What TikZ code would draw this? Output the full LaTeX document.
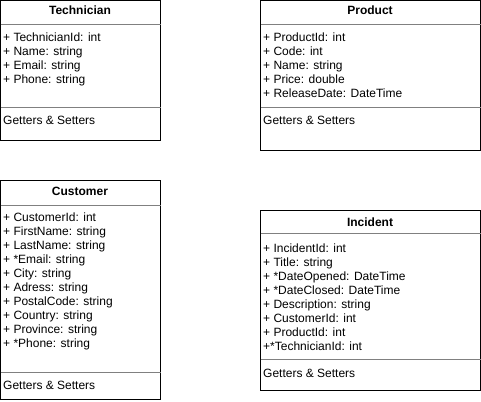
\documentclass[tikz,border=0pt]{standalone}
\usepackage{fontspec}
\setmainfont{Liberation Sans}
\definecolor{divgray}{HTML}{808080}
\begin{document}
\begin{tikzpicture}[x=1pt, y=-1pt,
  box/.style={draw=black, line width=1pt},
  divider/.style={draw=divgray, line width=1pt},
  title/.style={font=\fontsize{12}{14}\selectfont\bfseries, inner sep=0pt, anchor=base},
  members/.style={font=\fontsize{12}{14}\selectfont, align=left, inner sep=0pt, anchor=north west},
  ops/.style={font=\fontsize{12}{14}\selectfont, inner sep=0pt, anchor=base west}]
\useasboundingbox (0,0) rectangle (481,401);
% Technician
\draw [box] (0.5,0.5) rectangle (160.5,140.5);
\draw [divider] (0.5,24.5)--(160.5,24.5);
\draw [divider] (0.5,107.5)--(160.5,107.5);
\draw (80,15) node[title](T){Technician}
(3,32.3) node[members](TA){+ TechnicianId: int\\+ Name: string\\+ Email: string\\+ Phone: string}
(3,124) node[ops](TG){Getters \& Setters};
% Product
\draw [box] (260.5,0.5) rectangle (480.5,150.5);
\draw [divider] (260.5,24.5)--(480.5,24.5);
\draw [divider] (260.5,107.5)--(480.5,107.5);
\draw (370,15) node[title](P){Product}
(263,32.5) node[members](PA){+ ProductId: int\\+ Code: int\\+ Name: string\\+ Price: double\\+ ReleaseDate: DateTime}
(263,124) node[ops](PG){Getters \& Setters};
% Customer
\draw [box] (0.5,180.5) rectangle (160.5,399.5);
\draw [divider] (0.5,205.5)--(160.5,205.5);
\draw [divider] (0.5,372.5)--(160.5,372.5);
\draw (80,195) node[title](C){Customer}
(3,212.3) node[members](CA){+ CustomerId: int\\+ FirstName: string\\+ LastName: string\\+ *Email: string\\+ City: string\\+ Adress: string\\+ PostalCode: string\\+ Country: string\\+ Province: string\\+ *Phone: string}
(3,389) node[ops](CG){Getters \& Setters};
% Incident
\draw [box] (260.5,210.5) rectangle (480.5,390.5);
\draw [divider] (260.5,233.5)--(480.5,233.5);
\draw [divider] (260.5,359.5)--(480.5,359.5);
\draw (370,226) node[title](I){Incident}
(263,243.3) node[members](IA){+ IncidentId: int\\+ Title: string\\+ *DateOpened: DateTime\\+ *DateClosed: DateTime\\+ Description: string\\+ CustomerId: int\\+ ProductId: int\\+*TechnicianId: int}
(263,377) node[ops](IG){Getters \& Setters};
\end{tikzpicture}
\end{document}
